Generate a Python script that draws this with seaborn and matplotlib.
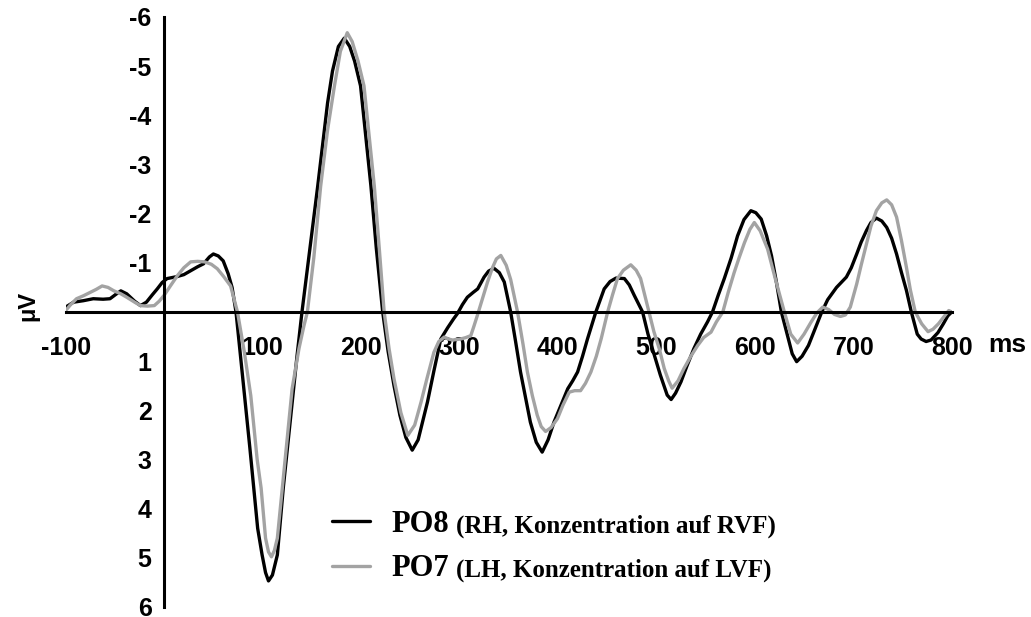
import numpy as np
import pandas as pd
import matplotlib
matplotlib.use("Agg")
import matplotlib.pyplot as plt
from matplotlib.lines import Line2D
import seaborn as sns

# ---------------- data ----------------
po8_ms = [-100, -92, -82, -72, -62, -55, -49, -44, -38, -30, -24, -18, -12, -7, -2,
          3, 13, 20, 27, 34, 40, 46, 50, 55, 60, 65, 69, 73, 81, 87, 91, 95, 99.5,
          103, 106, 110, 115, 121, 128, 135, 140, 148, 156, 166, 171, 177, 183,
          188.5, 193.5, 199.5, 210, 215.5, 222, 227.5, 233.5, 239.5, 245.5, 252,
          258, 267.5, 274, 281, 288, 294, 298, 303, 308, 314, 318.5, 325, 329.5,
          335, 340.5, 345.5, 352, 357, 362, 372, 378, 384, 390, 396, 403, 410,
          415, 420, 425, 430, 438.5, 447, 453, 459, 467.5, 472.5, 477.5, 486,
          491.5, 497.5, 504, 511, 515, 519.5, 525, 531, 538, 545, 552, 557, 563,
          569, 576, 582.5, 589, 596, 601, 606.5, 612, 617, 622, 627, 634, 638,
          642.5, 648, 654.5, 661, 668, 674, 683, 693, 698, 703.5, 708, 713.5, 718,
          723.5, 729, 734, 739, 744, 749, 754, 759, 765, 769, 774, 779, 786,
          791.5, 796, 800]
po8_uv = [-0.10, -0.20, -0.23, -0.27, -0.26, -0.27, -0.36, -0.43, -0.37, -0.22,
          -0.13, -0.20, -0.35, -0.47, -0.60, -0.68, -0.72, -0.76, -0.84, -0.92,
          -0.98, -1.12, -1.18, -1.14, -1.04, -0.78, -0.50, 0.00, 1.56, 2.75, 3.58,
          4.40, 4.94, 5.30, 5.47, 5.35, 4.94, 3.58, 2.24, 0.89, 0.00, -1.28,
          -2.56, -4.25, -4.90, -5.40, -5.57, -5.40, -5.10, -4.60, -2.57, -1.30,
          0.00, 0.80, 1.50, 2.10, 2.55, 2.81, 2.60, 1.83, 1.20, 0.55, 0.32, 0.14,
          0.03, -0.15, -0.30, -0.40, -0.47, -0.71, -0.83, -0.89, -0.80, -0.61,
          0.00, 0.60, 1.22, 2.24, 2.65, 2.85, 2.60, 2.24, 1.90, 1.56, 1.40, 1.22,
          0.90, 0.55, 0.00, -0.47, -0.62, -0.69, -0.68, -0.55, -0.34, 0.00, 0.45,
          0.85, 1.28, 1.69, 1.78, 1.65, 1.42, 1.10, 0.75, 0.45, 0.20, 0.00, -0.35,
          -0.68, -1.10, -1.55, -1.88, -2.06, -2.02, -1.89, -1.55, -1.14, -0.60,
          0.00, 0.54, 0.85, 1.01, 0.90, 0.68, 0.35, 0.00, -0.25, -0.50, -0.71,
          -0.90, -1.18, -1.42, -1.66, -1.82, -1.91, -1.85, -1.72, -1.50, -1.18,
          -0.80, -0.44, 0.00, 0.45, 0.55, 0.60, 0.57, 0.42, 0.24, 0.08, 0.00]

po7_ms = [-100, -95, -89, -82, -75, -69, -63, -57, -51, -44, -38, -30, -24, -17,
          -10, -5, 0, 7, 13.5, 20, 27, 34, 41, 48, 54, 60.5, 67.5, 74.5, 81.5, 88,
          94.5, 98.5, 103, 106, 109, 112, 115, 120, 125, 130, 137, 142, 145.5,
          152, 159, 166, 173, 179, 186, 191, 197, 203, 213.5, 218.5, 223.5, 228.5,
          233.5, 240.5, 247.5, 254.5, 261, 267, 274, 279, 284.5, 289, 293, 297.5,
          301, 306.5, 311.5, 314.5, 318, 323.5, 328.5, 333.5, 337.5, 342, 347.5,
          352, 359, 364.5, 369, 374, 379, 383, 387.5, 393, 399.5, 405, 411.5, 417,
          423, 428, 433.5, 439, 444, 450.5, 455.5, 460.5, 466.5, 474, 479.5, 484,
          492.5, 497.5, 503, 508, 512.5, 516, 522, 528, 535, 542, 548, 555.5, 561,
          567.5, 573, 579, 584, 589.5, 595, 599.5, 605.5, 613, 620.5, 630, 636.5,
          643.5, 650, 657, 663, 669, 675, 681, 687, 692, 697, 703.5, 708, 713.5,
          718, 723.5, 729, 734, 739, 744, 749, 754, 758, 763, 769.5, 776, 781,
          786.5, 792, 797, 800]
po7_uv = [-0.03, -0.15, -0.27, -0.33, -0.40, -0.46, -0.53, -0.50, -0.43, -0.37,
          -0.30, -0.20, -0.13, -0.12, -0.13, -0.22, -0.34, -0.55, -0.74, -0.90,
          -1.02, -1.03, -1.02, -0.97, -0.88, -0.72, -0.53, 0.00, 0.82, 1.70, 3.00,
          3.58, 4.60, 4.88, 4.98, 4.85, 4.60, 3.58, 2.57, 1.56, 0.74, 0.28, 0.00,
          -1.10, -2.56, -3.70, -4.60, -5.30, -5.68, -5.50, -5.10, -4.60, -2.56,
          -1.30, 0.00, 0.75, 1.36, 2.05, 2.51, 2.30, 1.83, 1.35, 0.82, 0.60, 0.51,
          0.55, 0.57, 0.56, 0.55, 0.52, 0.48, 0.30, 0.08, -0.28, -0.61, -0.90,
          -1.08, -1.15, -0.95, -0.66, 0.00, 0.65, 1.22, 1.70, 2.10, 2.33, 2.43,
          2.35, 2.17, 1.90, 1.63, 1.60, 1.60, 1.45, 1.22, 0.90, 0.54, 0.00, -0.35,
          -0.68, -0.85, -0.96, -0.85, -0.68, 0.00, 0.40, 0.75, 1.15, 1.40, 1.55,
          1.40, 1.15, 0.90, 0.68, 0.52, 0.41, 0.20, 0.00, -0.40, -0.80, -1.10,
          -1.41, -1.68, -1.82, -1.65, -1.28, -0.70, 0.00, 0.45, 0.63, 0.45, 0.21,
          0.02, -0.10, -0.05, 0.05, 0.09, 0.06, -0.10, -0.57, -0.95, -1.39, -1.75,
          -2.06, -2.22, -2.28, -2.18, -1.93, -1.45, -0.91, -0.45, 0.00, 0.24, 0.40,
          0.35, 0.24, 0.10, -0.03, 0.00]

x_ticks = [-100, 0, 100, 200, 300, 400, 500, 600, 700, 800]
x_labels = ["-100", "", "100", "200", "300", "400", "500", "600", "700", "800"]
y_ticks = [-6, -5, -4, -3, -2, -1, 0, 1, 2, 3, 4, 5, 6]
y_labels = ["-6", "-5", "-4", "-3", "-2", "-1", "", "1", "2", "3", "4", "5", "6"]

series_names = ["PO8", "PO7"]
series_notes = ["(RH, Konzentration auf RVF)", "(LH, Konzentration auf LVF)"]
series_colors = ["#000000", "#a3a3a3"]

# ---------------- figure ----------------
sns.set_theme(style="white")
plt.rcParams["font.family"] = ["Liberation Sans", "DejaVu Sans"]
plt.rcParams["text.color"] = "black"
plt.rcParams["axes.labelcolor"] = "black"

df = pd.concat([
    pd.DataFrame({"ms": po8_ms, "uV": po8_uv, "ch": series_names[0]}),
    pd.DataFrame({"ms": po7_ms, "uV": po7_uv, "ch": series_names[1]}),
], ignore_index=True)

fig = plt.figure(figsize=(10.31, 6.17), dpi=100)
ax = fig.add_axes([65.7 / 1031, 10 / 617, (951.7 - 65.7) / 1031, (607 - 17) / 617])

sns.lineplot(data=df, x="ms", y="uV", hue="ch", palette=dict(zip(series_names, series_colors)),
             estimator=None, sort=False, linewidth=2.4, legend=False, ax=ax)

ax.set_xlim(-100, 800)
ax.set_ylim(6, -6)
ax.set_xlabel("")
ax.set_ylabel("")

for s in ["top", "right"]:
    ax.spines[s].set_visible(False)
ax.spines["left"].set_position(("data", 0))
ax.spines["bottom"].set_position(("data", 0))
for s in ["left", "bottom"]:
    ax.spines[s].set_linewidth(2.2)
    ax.spines[s].set_color("black")

ax.set_xticks(x_ticks)
ax.set_xticklabels(x_labels)
ax.set_yticks(y_ticks)
ax.set_yticklabels(y_labels)
ax.tick_params(axis="x", direction="out", length=7, width=2.2, pad=10, labelsize=18, colors="black")
ax.tick_params(axis="y", direction="out", length=7, width=2.2, pad=2, labelsize=18, colors="black")
for lab in ax.get_xticklabels() + ax.get_yticklabels():
    lab.set_fontweight("bold")
ax.set_facecolor("none")

fig.text(28 / 1031, 1 - 306 / 617, "μV", rotation=90, ha="center", va="center",
         fontsize=17, fontweight="bold", color="black")
fig.text(988 / 1031, 1 - 352 / 617, "ms", ha="left", va="baseline",
         fontsize=19, fontweight="bold", color="black")

handles = [Line2D([], [], color=c, lw=2.4) for c in series_colors]
leg = ax.legend(handles, series_names, loc="upper left",
                bbox_to_anchor=(332 / 1031, 1 - 510 / 617), bbox_transform=fig.transFigure,
                frameon=False, borderpad=0, borderaxespad=0, handlelength=1.25,
                handletextpad=0.7, labelspacing=0.5,
                prop={"family": "Liberation Serif", "weight": "bold", "size": 22})
for t in leg.get_texts():
    t.set_color("black")

fig.canvas.draw()
renderer = fig.canvas.get_renderer()
inv = fig.transFigure.inverted()
for txt, note in zip(leg.get_texts(), series_notes):
    bb = txt.get_window_extent(renderer)
    x0, y0 = inv.transform((bb.x1 + 7, bb.y0 + 1))
    fig.text(x0, y0, note, ha="left", va="bottom", fontsize=18, fontweight="bold",
             family="Liberation Serif", color="black")

fig.savefig("out.png", dpi=100)
